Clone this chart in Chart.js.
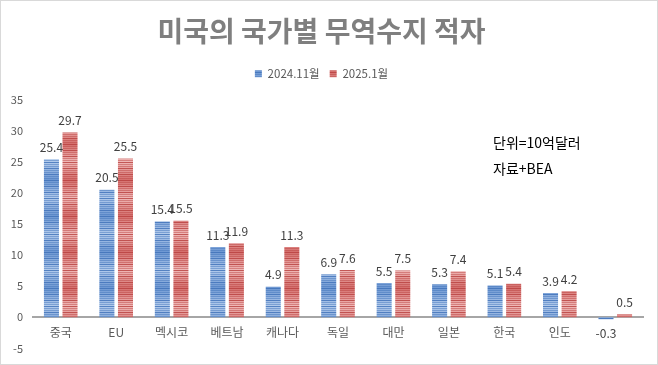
<!DOCTYPE html>
<html><head><meta charset="utf-8">
<script src="https://cdn.jsdelivr.net/npm/chart.js@4/dist/chart.umd.min.js"></script>
<style>html,body{margin:0;padding:0;background:#fff}#wrap{width:658px;height:365px;position:relative}</style>
</head><body><div id="wrap"><canvas id="c" width="658" height="365"></canvas></div>
<script>
const categories = ['중국','EU','멕시코','베트남','캐나다','독일','대만','일본','한국','인도',''];
const nov2024 = [25.4, 20.5, 15.4, 11.3, 4.9, 6.9, 5.5, 5.3, 5.1, 3.9, -0.3];
const jan2025 = [29.7, 25.5, 15.5, 11.9, 11.3, 7.6, 7.5, 7.4, 5.4, 4.2, 0.5];
const seriesNames = ['2024.11월', '2025.1월'];
const yTicks = {min: -5, max: 35, step: 5};
const titleText = '미국의 국가별 무역수지 적자';
const noteLines = ['단위=10억달러', '자료+BEA'];

const FONT = "'Noto Sans CJK KR', 'Noto Sans', sans-serif";

function stripes(dark, mid, light) {
  const c = document.createElement('canvas');
  c.width = 4; c.height = 36;
  const g = c.getContext('2d');
  const grad = g.createLinearGradient(0, 0, 0, 36);
  grad.addColorStop(0, mid); grad.addColorStop(0.5, light); grad.addColorStop(1, mid);
  g.fillStyle = grad; g.fillRect(0, 0, 4, 36);
  g.fillStyle = dark;
  for (let y = 0; y < 36; y += 2) { g.globalAlpha = (y % 6 === 0) ? 0.8 : 0.45; g.fillRect(0, y, 4, 1); }
  g.globalAlpha = 1;
  return g.createPattern(c, 'repeat');
}
const ctx0 = document.getElementById('c').getContext('2d');
const bluePat = stripes('#3f70b8', '#6d97d2', '#b3cbec');
const redPat = stripes('#b8403e', '#d46e6c', '#f0b9b8');

const labelPlugin = {
  id: 'valueLabels',
  afterDatasetsDraw(chart) {
    const ctx = chart.ctx;
    ctx.save();
    ctx.font = '12px ' + FONT;
    ctx.fillStyle = '#404040';
    ctx.textAlign = 'center';
    chart.data.datasets.forEach((ds, i) => {
      const meta = chart.getDatasetMeta(i);
      meta.data.forEach((el, j) => {
        const v = ds.data[j];
        const t = v.toFixed(1);
        if (v >= 0) { ctx.textBaseline = 'bottom'; ctx.fillText(t, el.x, el.y - 6); }
        else { ctx.textBaseline = 'top'; ctx.fillText(t, el.x, el.y + 8); }
      });
    });
    ctx.restore();
  }
};
const notePlugin = {
  id: 'notes',
  afterDraw(chart) {
    const ctx = chart.ctx;
    ctx.save();
    ctx.font = '14px ' + FONT;
    ctx.fillStyle = '#000';
    ctx.textBaseline = 'middle';
    ctx.textAlign = 'left';
    const a = chart.chartArea;
    noteLines.forEach((s, i) => ctx.fillText(s, a.left + 460, a.top + 43 + i * 26));
    ctx.strokeStyle = '#d9d9d9'; ctx.lineWidth = 1;
    ctx.strokeRect(0.5, 0.5, chart.width - 1, chart.height - 1);
    ctx.restore();
  }
};

new Chart(ctx0, {
  type: 'bar',
  data: {
    labels: categories,
    datasets: [
      {label: seriesNames[0], data: nov2024, backgroundColor: bluePat, borderWidth: 0},
      {label: seriesNames[1], data: jan2025, backgroundColor: redPat, borderWidth: 0}
    ]
  },
  options: {
    responsive: false,
    animation: false,
    layout: {padding: {left: 0, right: 15, top: 0, bottom: 16}},
    datasets: {bar: {categoryPercentage: 0.67, barPercentage: 0.81}},
    plugins: {
      title: {display: true, text: titleText, color: '#7f7f7f', font: {family: FONT, size: 28, weight: 'bold'}, padding: {top: 15, bottom: 9.4}},
      subtitle: {display: true, text: ' ', font: {size: 1}, padding: {top: 8.8, bottom: 0}, weight: 500},
      legend: {display: true, weight: 1000, labels: {boxWidth: 7, boxHeight: 7, padding: 10, color: '#595959', font: {family: FONT, size: 11.5}}},
      tooltip: {enabled: false}
    },
    scales: {
      x: {
        position: {y: 0},
        grid: {display: false, drawTicks: false},
        border: {display: true, color: '#a6a6a6', width: 2},
        ticks: {color: '#595959', font: {family: FONT, size: 12}, padding: 8, maxRotation: 0, autoSkip: false}
      },
      y: {
        min: yTicks.min, max: yTicks.max,
        grid: {display: false, drawTicks: false},
        border: {display: false},
        ticks: {stepSize: yTicks.step, color: '#595959', font: {family: FONT, size: 11}, padding: 10},
        afterFit(s) { s.width = 33; }
      }
    }
  },
  plugins: [labelPlugin, notePlugin]
});
</script></body></html>
